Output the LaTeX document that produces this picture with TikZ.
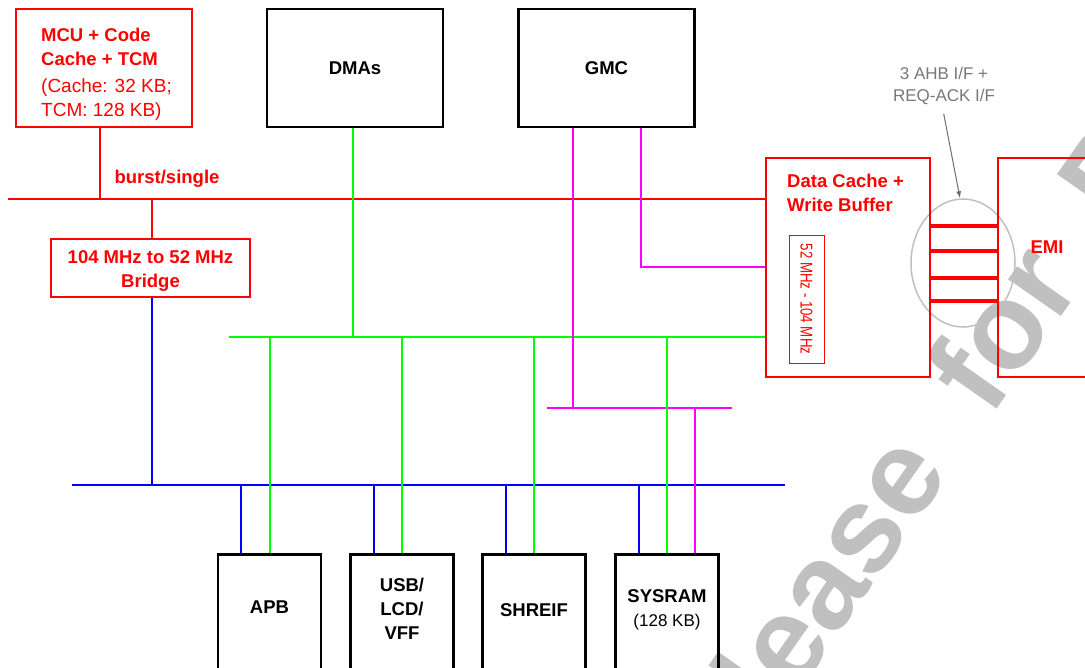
\documentclass[tikz,border=0pt]{standalone}
\usepackage{fontspec}
\setmainfont{Liberation Sans}
\usepackage{graphicx}
\usetikzlibrary{arrows.meta,shapes.geometric}

\definecolor{busred}{RGB}{255,0,0}
\definecolor{busgreen}{RGB}{0,255,0}
\definecolor{busblue}{RGB}{0,0,255}
\definecolor{busmag}{RGB}{255,0,255}
\definecolor{notegray}{RGB}{120,120,120}
\definecolor{arrowgray}{RGB}{110,110,110}
\definecolor{ringgray}{RGB}{192,192,192}
\definecolor{wmgray}{RGB}{192,192,192}

\newcommand{\rmtxt}{\mdseries\fontsize{19}{23}\selectfont}

\begin{document}
\begin{tikzpicture}[x=1pt, y=-1pt,
  every node/.style={font=\fontsize{19}{24}\selectfont, inner sep=0pt},
  box/.style={draw, line width=2.6pt, font=\bfseries\fontsize{18.5}{24}\selectfont},
  redbox/.style={box, draw=busred, text=busred, line width=2.4pt},
  boxtxt/.style={font=\bfseries\fontsize{18.5}{24}\selectfont, align=center},
  redtxt/.style={boxtxt, text=busred},
  bus/.style={line width=2pt},
  redln/.style={bus, draw=busred},
  greenln/.style={bus, draw=busgreen},
  blueln/.style={bus, draw=busblue},
  magln/.style={bus, draw=busmag},
  ifln/.style={draw=busred, line width=3.5pt},
  note/.style={-{Latex[length=7pt, width=5pt]}, draw=arrowgray, line width=1pt},
  wmark/.style={text=wmgray, font=\bfseries\fontsize{122}{122}\selectfont, rotate=55, anchor=base west}]

  \useasboundingbox (0,0) rectangle (1085,668);
  \clip (0,0) rectangle (1085,668);

  % watermark, behind everything
  \node[wmark] (wm) at (687,851) {Release\hspace{0.55em}for\hspace{0.55em}Production};

  % upper row
  \node[redbox, minimum width=176pt, minimum height=118pt] (mcu) at (104,68) {};
  \node[redtxt, align=left, anchor=north west] (mcutxt) at (41,27.5)
    {MCU + Code\\Cache + TCM\\[3pt]\rmtxt (Cache: 32 KB;\\\rmtxt TCM: 128 KB)};
  \node[box, minimum width=176pt, minimum height=118pt] (dmas) at (355,68) {DMAs};
  \node[box, minimum width=176pt, minimum height=118pt] (gmc) at (606.5,68) {GMC};
  \node[redbox, minimum width=199pt, minimum height=58pt] (bridge) at (150.5,268) {};
  \node[redtxt] (bridgetxt) at (150.5,271) {104 MHz to 52 MHz\\Bridge};

  % data cache and EMI
  \node[ellipse, draw=ringgray, line width=1.5pt, minimum width=104pt, minimum height=128pt] (ring) at (963,263) {};
  \node[redbox, minimum width=164pt, minimum height=219pt] (dcache) at (848,267.5) {};
  \node[redtxt, align=left, anchor=north west] (dctxt) at (787,173.5) {Data Cache +\\Write Buffer};
  \node[draw=busred, line width=0.8pt, text=busred, rotate=-90, minimum width=128pt, minimum height=35pt,
    font=\fontsize{17}{17}\selectfont] (dcclk) at (806.5,299) {\scalebox{0.78}[1]{52 MHz - 104 MHz}};
  \node[redbox, minimum width=98pt, minimum height=219pt] (emi) at (1047,267.5) {};
  \node[redtxt] (emitxt) at (1047,247) {EMI};
  \foreach \dy in {41.5,16.5,-10.5,-33.5}
    \draw[ifln] ([yshift=\dy pt]dcache.east) -- ([yshift=\dy pt]emi.west);
  \node[text=notegray, align=center, font=\fontsize{17}{22}\selectfont] (iflbl) at (944,86) {3 AHB I/F +\\REQ-ACK I/F};
  \draw[note, shorten <=9pt] ([xshift=-2pt]iflbl.south) -- ([xshift=-3pt]ring.north);

  % lower row
  \node[box, minimum width=103pt, minimum height=140pt, anchor=north] (apb) at (269.5,553) {};
  \node[box, minimum width=103pt, minimum height=140pt, anchor=north] (usb) at (402,553) {};
  \node[box, minimum width=103pt, minimum height=140pt, anchor=north] (shr) at (534,553) {};
  \node[box, minimum width=103pt, minimum height=140pt, anchor=north] (sys) at (667,553) {};
  \node[boxtxt] at ([yshift=-54pt]apb.north) {APB};
  \node[boxtxt] at ([yshift=-56pt]usb.north) {USB/\\LCD/\\VFF};
  \node[boxtxt] at ([yshift=-57pt]shr.north) {SHREIF};
  \node[boxtxt] at ([yshift=-57pt]sys.north) {SYSRAM\\\mdseries\fontsize{17}{22}\selectfont(128 KB)};

  % buses
  \coordinate (rb-w) at (8,199);
  \coordinate (gb-w) at (229,337);
  \coordinate (bb-w) at (72,485);
  \coordinate (bb-e) at (785,485);
  \coordinate (mb-w) at (547,408);
  \coordinate (mb-e) at (732,408);
  \draw[redln] (rb-w) -- (rb-w -| dcache.west);
  \node[redtxt] (burst) at (167,179) {burst/single};
  \draw[redln] ([xshift=-4pt]mcu.south) -- ([xshift=-4pt]mcu.south |- rb-w);
  \draw[redln] ([xshift=1.5pt]bridge.north) -- ([xshift=1.5pt]bridge.north |- rb-w);
  \draw[blueln] ([xshift=1.5pt]bridge.south) -- ([xshift=1.5pt]bridge.south |- bb-w);
  \draw[greenln] (gb-w) -- (gb-w -| dcache.west);
  \draw[greenln] ([xshift=-2pt]dmas.south) -- ([xshift=-2pt]dmas.south |- gb-w);
  \draw[magln] ([xshift=-33.5pt]gmc.south) -- ([xshift=-33.5pt]gmc.south |- mb-w);
  \draw[magln] ([xshift=34.5pt]gmc.south) |- (dcache.west);
  \draw[magln] (mb-w) -- (mb-e);
  \draw[blueln] (bb-w) -- (bb-e);
  \foreach \u in {apb,usb,shr,sys} {
    \draw[blueln] ([xshift=-28.5pt]\u.north) -- ([xshift=-28.5pt]\u.north |- bb-w);
    \draw[greenln] (\u.north) -- (\u.north |- gb-w);
  }
  \draw[magln] ([xshift=28pt]sys.north) -- ([xshift=28pt]sys.north |- mb-w);
\end{tikzpicture}
\end{document}
